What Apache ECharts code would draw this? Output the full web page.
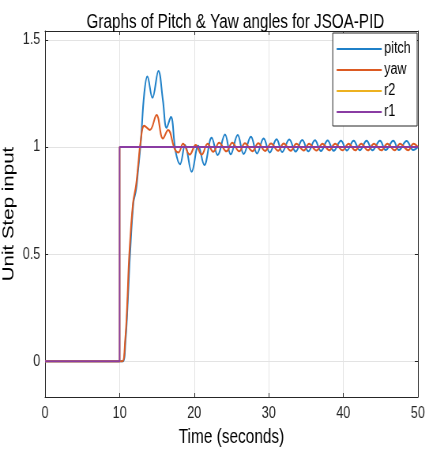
<!DOCTYPE html>
<html>
<head>
<meta charset="utf-8">
<script src="https://cdn.jsdelivr.net/npm/echarts@6/dist/echarts.min.js"></script>
<style>
  html, body { margin: 0; padding: 0; background: #fff; overflow: hidden; }
  /* 原图被横向压缩过，这里用 scaleX 模拟 */
  #chart { width: 538px; height: 449px; transform: scaleX(0.79); transform-origin: 0 0; }
</style>
</head>
<body>
<div id="chart"></div>
<script>
// 读图得到的数据
var pitchT = [0, 10, 10.45, 10.8, 11.05, 11.4, 11.85, 12.2, 12.5, 12.85, 13.3, 13.72, 14.4, 15.2, 15.8, 16.3, 16.87, 17.5, 18.1, 18.77, 19.66, 20.55, 21.36, 22.34, 23.15, 24.13, 24.89, 25.83, 26.63, 27.61, 28.42, 29.31, 30.12, 31.05, 31.8, 32.75, 33.6, 34.49, 35.3, 36.19, 37.0, 37.89, 38.7, 39.68, 40.48, 41.38, 42.2, 43.12, 43.9, 44.91, 45.67, 46.69, 47.45, 48.48, 49.37, 50];
var pitchV = [0, 0, 0, 0.1, 0.25, 0.5, 0.74, 0.8, 0.9, 1.03, 1.25, 1.33, 1.23, 1.355, 1.22, 1.09, 1.14, 0.98, 0.92, 1.01, 0.885, 1.006, 0.916, 1.043, 0.963, 1.059, 0.966, 1.056, 0.968, 1.048, 0.97, 1.04, 0.975, 1.037, 0.977, 1.035, 0.979, 1.033, 0.98, 1.032, 0.982, 1.031, 0.983, 1.03, 0.984, 1.03, 0.985, 1.03, 0.985, 1.03, 0.986, 1.03, 0.986, 1.028, 0.986, 1.0];

var yawT = [0, 10, 10.4, 10.75, 11.0, 11.3, 11.8, 12.2, 12.5, 12.8, 13.3, 14.05, 14.95, 15.8, 16.5, 17.4, 17.9, 18.5, 19.4, 20.2, 21.0, 21.8, 22.55, 23.35, 24.33, 25.1, 26.03, 26.8, 27.8, 28.6, 29.5, 30.3, 31.26, 32.0, 32.95, 33.7, 34.7, 35.4, 36.4, 37.2, 38.1, 38.9, 39.9, 40.7, 41.6, 42.4, 43.3, 44.1, 45.1, 45.9, 46.9, 47.6, 48.7, 49.4, 50];
var yawV = [0, 0, 0, 0.1, 0.25, 0.5, 0.74, 0.82, 0.92, 1.02, 1.10, 1.08, 1.15, 1.04, 1.08, 0.99, 0.975, 1.015, 0.965, 1.01, 0.965, 1.015, 0.978, 1.02, 0.98, 1.02, 0.98, 1.018, 0.981, 1.018, 0.982, 1.017, 0.983, 1.017, 0.983, 1.016, 0.984, 1.016, 0.984, 1.016, 0.985, 1.015, 0.985, 1.015, 0.985, 1.015, 0.985, 1.015, 0.985, 1.015, 0.985, 1.015, 0.985, 1.015, 1.0];

// 阶跃输入 r1 / r2
var stepT = [0, 10, 10, 50];
var stepV = [0, 0, 1, 1];

var yTicks = [0, 0.5, 1, 1.5];

function pairs(t, v) {
	return t.map(function (item, i) {
		return [item, v[i]];
	});
}

var FONT = "'Liberation Sans', Arial, sans-serif";
var AXIS_COLOR = '#262626';
var GRID_COLOR = '#e3e3e3';

var chart = echarts.init(document.getElementById('chart'));

var option = {
	animation: false,
	title: {
		text: 'Graphs of Pitch & Yaw angles for JSOA-PID',
		left: 293,
		textAlign: 'center',
		top: 8,
		textStyle: {
			fontFamily: FONT,
			fontSize: 19.3,
			fontWeight: 'normal',
			color: '#000'
		}
	},
	legend: {
		data: ['pitch', 'yaw', 'r2', 'r1'],
		orient: 'vertical',
		right: 10,
		top: 33,
		icon: 'rect',
		itemWidth: 57,
		itemHeight: 2,
		itemGap: 5,
		padding: [8, 8, 6, 5],
		borderColor: AXIS_COLOR,
		borderWidth: 1,
		backgroundColor: '#fff',
		textStyle: {
			fontFamily: FONT,
			fontSize: 16,
			color: '#000',
			padding: [0, 0, 0, -2]
		}
	},
	grid: {
		left: 57,
		right: 9,
		top: 31,
		bottom: 52,
		outerBoundsMode: 'none'
	},
	xAxis: [
		{
			type: 'value',
			min: 0,
			max: 50,
			interval: 10,
			name: 'Time (seconds)',
			nameLocation: 'middle',
			nameGap: 31,
			nameMoveOverlap: false,
			nameTextStyle: {
				fontFamily: FONT,
				fontSize: 19.5,
				color: '#000'
			},
			axisLine: { show: true, onZero: false, lineStyle: { color: AXIS_COLOR, width: 1 } },
			axisTick: { show: true, inside: true, length: 4, lineStyle: { color: AXIS_COLOR } },
			axisLabel: {
				margin: 9,
				fontFamily: FONT,
				fontSize: 16,
				color: AXIS_COLOR
			},
			splitLine: { show: true, lineStyle: { color: GRID_COLOR, width: 1 } }
		},
		{
			type: 'value',
			position: 'top',
			min: 0,
			max: 50,
			interval: 10,
			axisLine: { show: true, onZero: false, lineStyle: { color: AXIS_COLOR, width: 1 } },
			axisTick: { show: true, inside: true, length: 4, lineStyle: { color: AXIS_COLOR } },
			axisLabel: { show: false },
			splitLine: { show: false }
		}
	],
	yAxis: [
		{
			type: 'value',
			min: -0.167,
			max: 1.542,
			name: 'Unit Step input',
			nameLocation: 'middle',
			nameRotate: 90,
			nameGap: 35,
			nameMoveOverlap: false,
			nameTextStyle: {
				fontFamily: FONT,
				fontSize: 20.5,
				color: '#000'
			},
			axisLine: { show: true, onZero: false, lineStyle: { color: AXIS_COLOR, width: 1 } },
			axisTick: { show: true, inside: true, length: 4, customValues: yTicks, lineStyle: { color: AXIS_COLOR } },
			axisLabel: {
				customValues: yTicks,
				margin: 6,
				fontFamily: FONT,
				fontSize: 16,
				color: AXIS_COLOR
			},
			splitLine: { show: true, customValues: yTicks, lineStyle: { color: GRID_COLOR, width: 1 } }
		},
		{
			type: 'value',
			position: 'right',
			min: -0.167,
			max: 1.542,
			axisLine: { show: true, onZero: false, lineStyle: { color: AXIS_COLOR, width: 1 } },
			axisTick: { show: true, inside: true, length: 4, customValues: yTicks, lineStyle: { color: AXIS_COLOR } },
			axisLabel: { show: false },
			splitLine: { show: false }
		}
	],
	series: [
		{
			name: 'pitch',
			type: 'line',
			smooth: 0.4,
			symbol: 'none',
			color: '#1f80c8',
			lineStyle: { width: 2 },
			data: pairs(pitchT, pitchV)
		},
		{
			name: 'yaw',
			type: 'line',
			smooth: 0.4,
			symbol: 'none',
			color: '#dc5a22',
			lineStyle: { width: 2 },
			data: pairs(yawT, yawV)
		},
		{
			name: 'r2',
			type: 'line',
			symbol: 'none',
			color: '#EDB120',
			lineStyle: { width: 2 },
			data: pairs(stepT, stepV)
		},
		{
			name: 'r1',
			type: 'line',
			symbol: 'none',
			color: '#8a3ca3',
			lineStyle: { width: 2 },
			data: pairs(stepT, stepV)
		}
	]
};

chart.setOption(option);
</script>
</body>
</html>
